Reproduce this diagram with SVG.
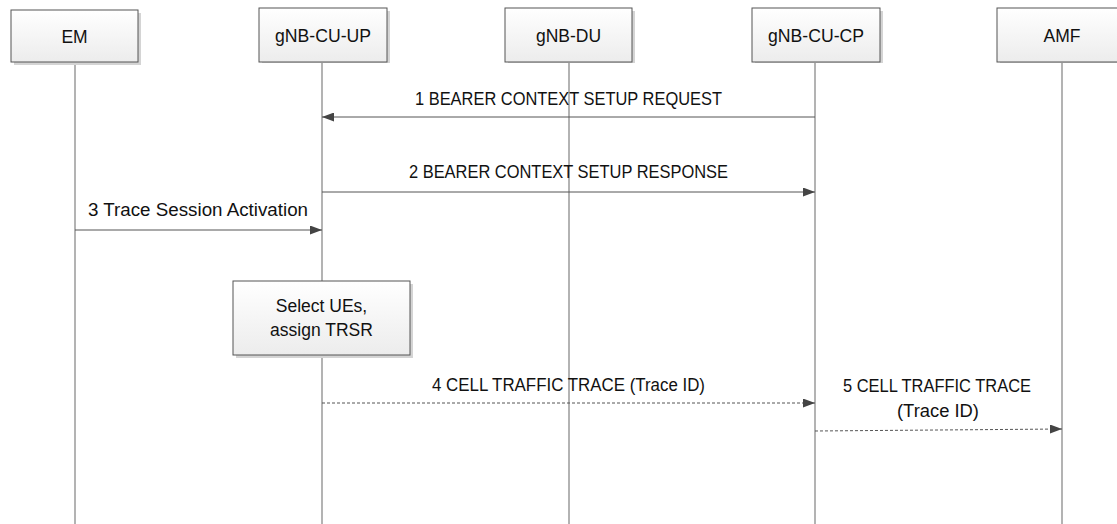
<svg xmlns="http://www.w3.org/2000/svg" width="1117" height="524" viewBox="0 0 1117 524">
<style>
.box{fill:url(#g);stroke:#555;stroke-width:1}
.sh{fill:#d4d4d4}
.life{stroke:#808080;stroke-width:1.2;fill:none}
.msg{stroke:#555;stroke-width:1;fill:none}
.dash{stroke-dasharray:3,2}
text{font-family:"Liberation Sans",Arial,sans-serif;font-size:17.5px;fill:#111;text-anchor:middle}
.m{lengthAdjust:spacingAndGlyphs}
</style>
<defs>
<linearGradient id="g" x1="0" y1="0" x2="0" y2="1">
<stop offset="0" stop-color="#ffffff"/>
<stop offset="1" stop-color="#ececec"/>
</linearGradient>
<marker id="ah" markerWidth="13" markerHeight="9" refX="12" refY="4.5" orient="auto" markerUnits="userSpaceOnUse">
<path d="M0,0 L12,4.5 L0,9 Z" fill="#444"/>
</marker>
</defs>
<g id="lifelines">
<line class="life" x1="75" y1="62" x2="75" y2="524"/>
<line class="life" x1="322" y1="62" x2="322" y2="524"/>
<line class="life" x1="569" y1="62" x2="569" y2="524"/>
<line class="life" x1="815" y1="62" x2="815" y2="524"/>
<line class="life" x1="1062" y1="62" x2="1062" y2="524"/>
</g>
<g id="EM">
<rect class="sh" x="14" y="13" width="127" height="52"/>
<rect class="box" x="11" y="10" width="127" height="52"/>
<text x="74.5" y="43">EM</text>
</g>
<g id="gNB-CU-UP">
<rect class="sh" x="262" y="11" width="128" height="52"/>
<rect class="box" x="259" y="8" width="128" height="54"/>
<text x="323" y="42" textLength="96" lengthAdjust="spacingAndGlyphs">gNB-CU-UP</text>
</g>
<g id="gNB-DU">
<rect class="sh" x="508" y="11" width="127" height="52"/>
<rect class="box" x="505" y="8" width="127" height="54"/>
<text x="568.5" y="42">gNB-DU</text>
</g>
<g id="gNB-CU-CP">
<rect class="sh" x="755" y="11" width="128" height="52"/>
<rect class="box" x="752" y="8" width="128" height="54"/>
<text x="816" y="42" textLength="96" lengthAdjust="spacingAndGlyphs">gNB-CU-CP</text>
</g>
<g id="AMF">
<rect class="sh" x="1000" y="11" width="128" height="52"/>
<rect class="box" x="997" y="8" width="128" height="54"/>
<text x="1062" y="42">AMF</text>
</g>
<g id="select">
<rect class="sh" x="236" y="284" width="177" height="74"/>
<rect class="box" x="233" y="281" width="177" height="74"/>
<text x="321.5" y="312">Select UEs,</text>
<text x="321.5" y="336">assign TRSR</text>
</g>
<g id="connectors">
<line class="msg" x1="815" y1="117" x2="322" y2="117" marker-end="url(#ah)"/>
<text x="568.5" y="105" textLength="307" lengthAdjust="spacingAndGlyphs">1 BEARER CONTEXT SETUP REQUEST</text>
<line class="msg" x1="322" y1="192" x2="815" y2="192" marker-end="url(#ah)"/>
<text x="568.5" y="178" textLength="319" lengthAdjust="spacingAndGlyphs">2 BEARER CONTEXT SETUP RESPONSE</text>
<line class="msg" x1="75" y1="230" x2="322" y2="230" marker-end="url(#ah)"/>
<text x="198" y="216" textLength="220" lengthAdjust="spacingAndGlyphs">3 Trace Session Activation</text>
<line class="msg dash" x1="322" y1="403" x2="815" y2="403" marker-end="url(#ah)"/>
<text x="568.5" y="391" textLength="273" lengthAdjust="spacingAndGlyphs">4 CELL TRAFFIC TRACE (Trace ID)</text>
<line class="msg dash" x1="815" y1="431" x2="1062" y2="429" marker-end="url(#ah)"/>
<text x="937" y="392" textLength="188" lengthAdjust="spacingAndGlyphs">5 CELL TRAFFIC TRACE</text>
<text x="938" y="417" textLength="82" lengthAdjust="spacingAndGlyphs">(Trace ID)</text>
</g>
</svg>
